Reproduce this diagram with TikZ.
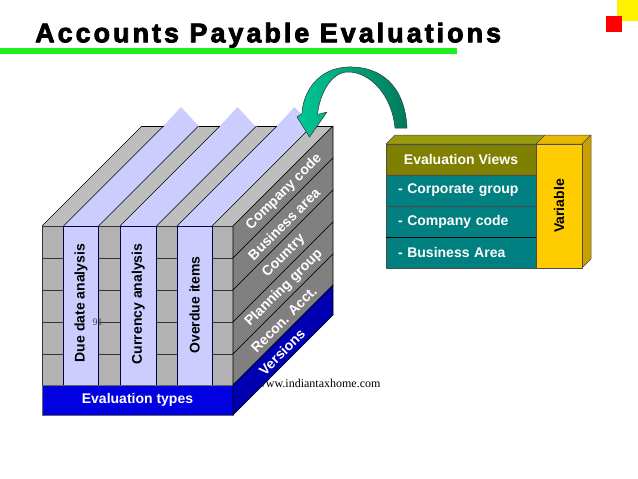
\documentclass[tikz,border=0pt]{standalone}
\usepackage{fontspec}
\setsansfont{Liberation Sans}
\setmainfont{Liberation Serif}
\newfontfamily\titlefont[LetterSpace=11,BoldFeatures={FakeBold=3}]{Liberation Sans}

\definecolor{rimgray}{HTML}{B2B2B2}
\definecolor{topgray}{HTML}{BEBEBE}
\definecolor{sidegray}{HTML}{808080}
\definecolor{pagecol}{HTML}{CCCCFF}
\definecolor{basecol}{HTML}{0000E0}
\definecolor{baseside}{HTML}{0000B0}
\definecolor{olivecol}{HTML}{808000}
\definecolor{olivetop}{HTML}{9A9A10}
\definecolor{tealcol}{HTML}{008080}
\definecolor{varcol}{HTML}{FFCC00}
\definecolor{vartop}{HTML}{E6B800}
\definecolor{varside}{HTML}{C9A000}
\definecolor{arrowlight}{HTML}{00C896}
\definecolor{arrowdark}{HTML}{007A5C}
\definecolor{rulegreen}{HTML}{1EF01E}

\begin{document}
\begin{tikzpicture}
	[x=1pt,y=-1pt,line join=round,
	every node/.style={font=\sffamily\bfseries\fontsize{14}{16}\selectfont},
	edge/.style={draw=black,line width=.6pt},
	cell/.style={draw=black!80,fill=rimgray,line width=.5pt},
	page/.style={draw=black!70!blue,fill=pagecol,line width=.6pt},
	box/.style={draw=black!70,line width=.5pt,text=white,minimum width=150pt,minimum height=31pt,inner sep=0pt}]
	\useasboundingbox (0,0) rectangle (638,479);

	% title and corner marks
	\node[anchor=base west,inner sep=0pt,font=\titlefont\bfseries\fontsize{27}{30}\selectfont] (title) at (35,42.3) {Accounts Payable Evaluations};
	\fill[rulegreen] (0,48) rectangle (457,54);
	\fill[yellow] (617,0) rectangle (638,20.5);
	\fill[red] (606,15.7) rectangle (622,31.7);

	\node[anchor=base west,inner sep=0pt,font=\rmfamily\fontsize{12}{14}\selectfont] (web) at (257,387.3) {www.indiantaxhome.com};

	% cube: top face
	\foreach \xa in {163.5,220,277}
	\fill[pagecol] (\xa,126) -- (\xa+17.5,107) -- (\xa+35,126) -- cycle;
	\foreach \xa/\xb/\c in {42/63.5/topgray,63.5/98.5/pagecol,98.5/120/topgray,120/156.5/pagecol,156.5/177/topgray,177/212/pagecol,212/233/topgray}
	\fill[fill=\c] (\xa,226) -- (\xb,226) -- (\xb+100,126) -- (\xa+100,126) -- cycle;
	\foreach \xa in {42,63.5,98.5,120,156.5,177,212,233}
	\draw[edge] (\xa,226) -- (\xa+100,126);
	\foreach \xa/\xb in {42/63.5,98.5/120,156.5/177,212/233}
	\draw[edge] (\xa+100,126) -- (\xb+100,126);

	% cube: front face
	\foreach \xa/\xb in {42/63.5,98.5/120,156.5/177,212/233}
	\foreach \ya/\yb in {226/258,258/290,290/322,322/354,354/385}
	\draw[cell] (\xa,\ya) rectangle (\xb,\yb);
	\foreach \xa/\xb in {63.5/98.5,120/156.5,177/212}
	\draw[page] (\xa,226) rectangle (\xb,385);
	\node[fill=basecol,draw=black!60,text=white,minimum width=191pt,minimum height=30pt] (evaltypes) at (137.5,400) {Evaluation types};

	% cube: right face
	\foreach \ya/\yb/\n/\txt in {226/258/cc/Company code,258/290/ba/Business area,290/322/ctry/Country,322/354/pg/Planning group,354/385/ra/Recon. Acct.}{
		\filldraw[fill=sidegray,edge] (233,\ya) -- (333,\ya-100) -- (333,\yb-100) -- (233,\yb) -- cycle;
		\node[rotate=45,text=white] (\n) at (284,{(\ya+\yb)/2-50}) {\txt};
	}
	\filldraw[fill=baseside,edge] (233,385) -- (333,285) -- (333,315) -- (233,415) -- cycle;
	\node[rotate=45,text=white] (vers) at (282,352) {Versions};

	\node[rotate=90] (due) at (81,303) {Due date analysis};
	\node[rotate=90] (cur) at (138.3,304) {Currency analysis};
	\node[rotate=90] (over) at (194.5,305) {Overdue items};
	\node[font=\rmfamily\fontsize{10}{12}\selectfont,text=black!75] (pgnum) at (97.5,322) {91};

	% evaluation views box
	\filldraw[fill=olivetop,draw=black!70,line width=.5pt] (386,144) -- (536,144) -- (545,135) -- (395,135) -- cycle;
	\filldraw[fill=vartop,draw=black!70,line width=.5pt] (536,144) -- (582,144) -- (591,135) -- (545,135) -- cycle;
	\filldraw[fill=varside,draw=black!70,line width=.5pt] (582,144) -- (591,135) -- (591,259) -- (582,268) -- cycle;
	\node[box,fill=olivecol] (views) at (461,159.5) {Evaluation Views};
	\foreach \y/\n/\txt in {190.5/corp/- Corporate group,221.5/comp/- Company code,252.5/area/- Business Area}
	\node[box,fill=tealcol,align=left,text width=126pt,inner xsep=12pt] (\n) at (461,\y) {\txt};
	\draw[line width=1.2pt] (comp.south west) -- (comp.south east);
	\node[rotate=90,fill=varcol,draw=black!70,line width=.5pt,minimum width=124pt,minimum height=46pt,inner sep=0pt] (var) at (559,206) {Variable};

	% curved arrow
	\shadedraw[left color=arrowlight,right color=arrowdark,draw=black!80,line width=.5pt]
	(407,128) .. controls (405,85) and (380,66) .. (348,67) .. controls (318,68) and (303,92) .. (302,113.5)
	-- (297,117) -- (309.5,137) -- (327,112) -- (317.5,114.5)
	.. controls (320,92) and (332,72) .. (348,72) .. controls (370,72) and (392,95) .. (395,128) -- cycle;
\end{tikzpicture}
\end{document}
